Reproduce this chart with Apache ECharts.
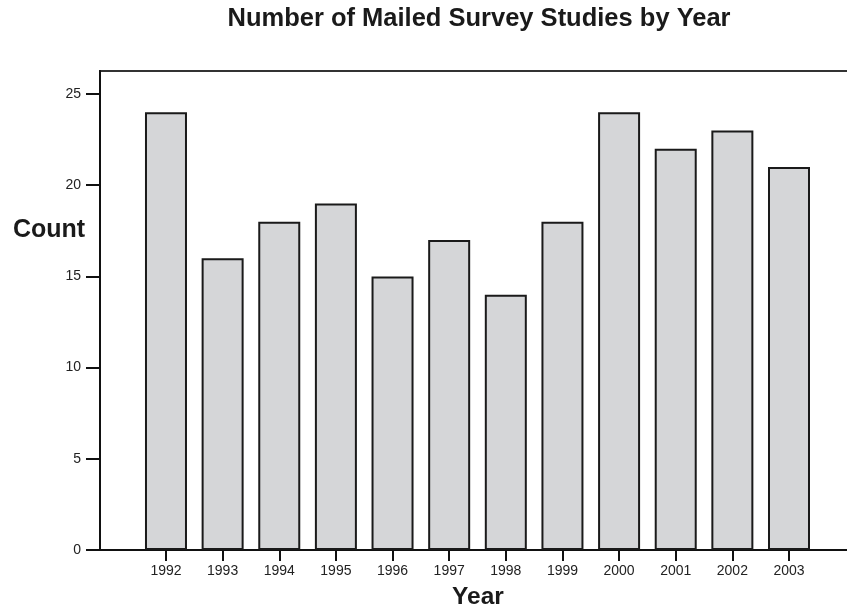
<!DOCTYPE html>
<html>
<head>
<meta charset="utf-8">
<script src="https://cdn.jsdelivr.net/npm/echarts@6/dist/echarts.min.js"></script>
<style>html,body{margin:0;padding:0;background:#fff}#c{width:847px;height:613px}</style>
</head>
<body>
<div id="c"></div>
<script>
const years = [1992,1993,1994,1995,1996,1997,1998,1999,2000,2001,2002,2003];
const counts = [24,16,18,19,15,17,14,18,24,22,23,21];
const yTicks = [0,5,10,15,20,25];
const FONT = '"Liberation Sans", Arial, Helvetica, sans-serif';

const chart = echarts.init(document.getElementById('c'), null, {renderer:'canvas'});
chart.setOption({
  animation:false,
  backgroundColor:'#fff',
  graphic:[
    {type:'text', x:479, y:19,
     style:{text:'Number of Mailed Survey Studies by Year', font:'bold 25.5px ' + FONT, fill:'#1a1a1a', textAlign:'center', textVerticalAlign:'middle'}},
    {type:'text', x:49, y:230,
     style:{text:'Count', font:'bold 25px ' + FONT, fill:'#1a1a1a', textAlign:'center', textVerticalAlign:'middle'}},
    {type:'text', x:478, y:597,
     style:{text:'Year', font:'bold 24.5px ' + FONT, fill:'#1a1a1a', textAlign:'center', textVerticalAlign:'middle'}}
  ],
  grid:{left:100, right:-3, top:71, bottom:63, outerBoundsMode:'none', containLabel:false,
        show:true, borderColor:'#333', borderWidth:2, backgroundColor:'transparent'},
  xAxis:{
    type:'value', min:1990.835, max:2004.077,
    splitLine:{show:false},
    axisLine:{show:true,lineStyle:{color:'#111',width:2}},
    axisTick:{show:true,customValues:years,length:11,lineStyle:{color:'#111',width:2}},
    axisLabel:{customValues:years,formatter:v=>String(v),fontFamily:FONT,fontSize:14,color:'#222',margin:14}
  },
  yAxis:{
    type:'value', min:0, max:26.26,
    splitLine:{show:false},
    axisLine:{show:true,lineStyle:{color:'#111',width:2}},
    axisTick:{show:true,customValues:yTicks,length:14,lineStyle:{color:'#111',width:2}},
    axisLabel:{customValues:yTicks,fontFamily:FONT,fontSize:14,color:'#222',margin:19}
  },
  series:[{
    type:'bar',
    data: years.map((y,i)=>[y,counts[i]]),
    barWidth:42,
    itemStyle:{color:'#d5d6d8',borderColor:'#1a1a1a',borderWidth:2}
  }]
});
</script>
</body>
</html>
